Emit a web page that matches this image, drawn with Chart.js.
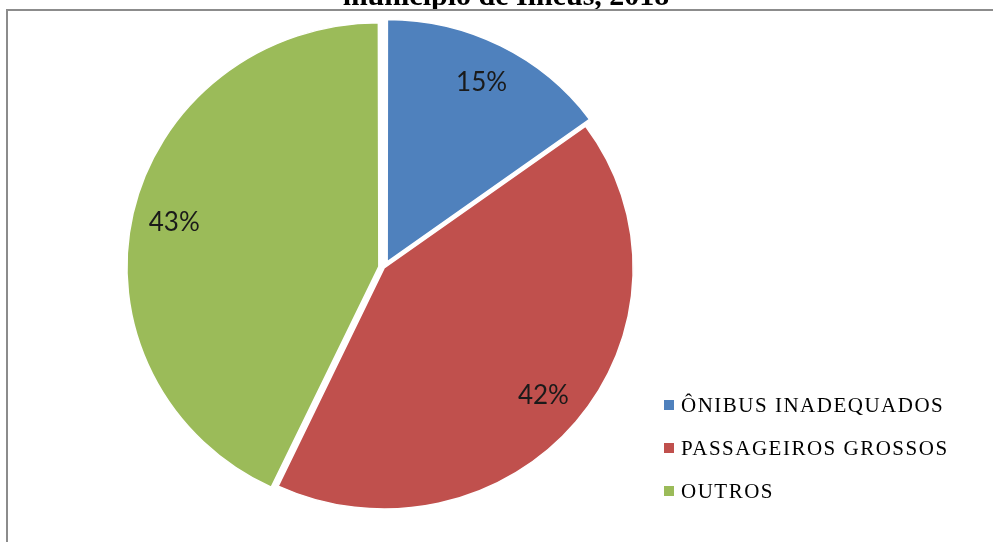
<!DOCTYPE html>
<html>
<head>
<meta charset="utf-8">
<script src="https://cdn.jsdelivr.net/npm/chart.js@4/dist/chart.umd.min.js"></script>
<style>
  html, body { margin: 0; padding: 0; background: #fff; }
  #wrap { position: relative; width: 993px; height: 542px; overflow: hidden; }
  canvas { display: block; }
</style>
</head>
<body>
<div id="wrap"><canvas id="grafico" width="993" height="542"></canvas></div>
<script>
var categorias = ['ÔNIBUS INADEQUADOS', 'PASSAGEIROS GROSSOS', 'OUTROS'];
var percentuais = [15, 42, 43];
var cores = ['#4F81BD', '#C0504D', '#9BBB59'];
// deslocamento de cada fatia em px
var destaque = [8, 0.3, 8];
var titulo = 'município de Ilhéus, 2018';

// a pizza sai um pouco mais larga que alta
var esticaX = 1.033;

// o ArcElement desloca offset/4 * (1 + fix); converte px -> offset
function paraOffset(px, fracao) {
  var circ = Math.min(Math.PI, fracao * 2 * Math.PI);
  var fix = 1 - Math.sin(circ);
  return px * 4 / (1 + fix);
}
var total = percentuais.reduce(function (a, b) { return a + b; }, 0);
var offsets = destaque.map(function (px, i) { return paraOffset(px, percentuais[i] / total); });

var moldura = {
  id: 'moldura',
  beforeDraw: function (chart) {
    var ctx = chart.ctx;
    ctx.save();
    ctx.fillStyle = '#fff';
    ctx.fillRect(0, 0, chart.width, chart.height);
    // titulo cortado no alto
    ctx.fillStyle = '#000';
    ctx.font = 'bold 30px "Liberation Serif", "Times New Roman", serif';
    ctx.textAlign = 'center';
    ctx.textBaseline = 'alphabetic';
    ctx.fillText(titulo, 506, 5);
    // borda da area do grafico
    ctx.fillStyle = '#8c8c8c';
    ctx.fillRect(6, 9, chart.width - 6, 2);
    ctx.fillRect(6, 9, 2, chart.height - 9);
    ctx.restore();
  }
};

var esticar = {
  id: 'esticar',
  beforeDatasetsDraw: function (chart) {
    var arco = chart.getDatasetMeta(0).data[0];
    var ctx = chart.ctx;
    ctx.save();
    ctx.translate(arco.x, arco.y);
    ctx.scale(esticaX, 1);
    ctx.translate(-arco.x, -arco.y);
  },
  afterDatasetsDraw: function (chart) {
    chart.ctx.restore();
  }
};

var rotulos = {
  id: 'rotulos',
  afterDraw: function (chart) {
    var ctx = chart.ctx;
    var meta = chart.getDatasetMeta(0);
    ctx.save();
    ctx.fillStyle = '#1a1a1a';
    ctx.font = '26px Lato, "Open Sans", sans-serif';
    ctx.textAlign = 'center';
    ctx.textBaseline = 'middle';
    meta.data.forEach(function (arco, i) {
      var meio = (arco.startAngle + arco.endAngle) / 2;
      var d = destaque[i] + arco.outerRadius * 0.83;
      var x = arco.x + Math.cos(meio) * d * esticaX;
      var y = arco.y + Math.sin(meio) * d;
      ctx.fillText(percentuais[i] + '%', x, y);
    });

    // legenda
    var lx = 664, ly = 405, passo = 43;
    ctx.font = '21px "Liberation Serif", "Times New Roman", serif';
    ctx.letterSpacing = '1.5px';
    ctx.textAlign = 'left';
    for (var i = 0; i < categorias.length; i++) {
      var yy = ly + i * passo;
      ctx.fillStyle = cores[i];
      ctx.fillRect(lx, yy - 5, 10, 10);
      ctx.fillStyle = '#000';
      ctx.fillText(categorias[i], lx + 17, yy + 1);
    }
    ctx.restore();
  }
};

new Chart(document.getElementById('grafico'), {
  type: 'pie',
  data: {
    labels: categorias,
    datasets: [{
      data: percentuais,
      backgroundColor: cores,
      borderColor: '#ffffff',
      borderWidth: 1.5,
      offset: offsets,
      hoverOffset: 0
    }]
  },
  options: {
    responsive: false,
    animation: false,
    events: [],
    radius: 241,
    layout: { padding: { left: 134, right: 359, top: 17.8, bottom: 24.2 } },
    plugins: {
      legend: { display: false },
      tooltip: { enabled: false },
      title: { display: false }
    }
  },
  plugins: [moldura, esticar, rotulos]
});
</script>
</body>
</html>
